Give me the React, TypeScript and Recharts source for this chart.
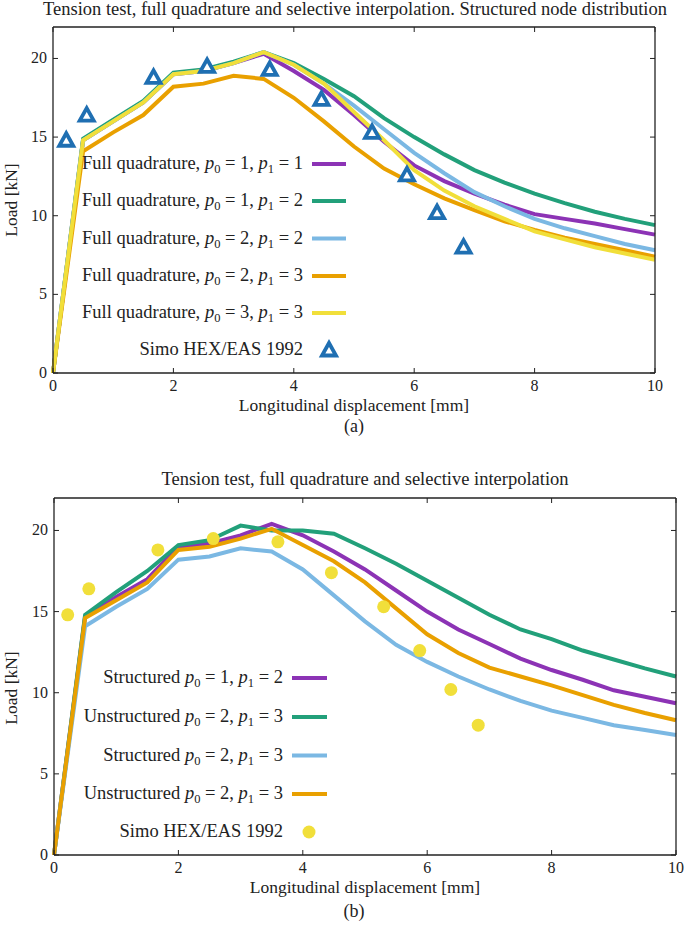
import React from 'react';
import { ComposedChart, Line, Scatter, XAxis, YAxis } from 'recharts';

// ---------- data ----------
const DISP = [0, 0.5, 1, 1.5, 2, 2.5, 3, 3.5, 4, 4.5, 5, 5.5, 6, 6.5, 7, 7.5, 8, 8.5, 9, 9.5, 10];

// (a) structured node distribution
const A_P11 = [0, 14.8, 16.0, 17.2, 19.0, 19.2, 19.7, 20.3, 19.2, 18.0, 16.4, 14.7, 13.2, 12.2, 11.4, 10.7, 10.1, 9.8, 9.5, 9.15, 8.8];
const A_P12 = [0, 14.9, 16.1, 17.3, 19.1, 19.3, 19.8, 20.4, 19.7, 18.7, 17.6, 16.2, 15.0, 13.9, 12.9, 12.1, 11.4, 10.8, 10.25, 9.8, 9.4];
const A_P22 = [0, 14.8, 16.0, 17.2, 19.0, 19.2, 19.7, 20.4, 19.6, 18.4, 17.0, 15.5, 14.0, 12.7, 11.5, 10.6, 9.8, 9.2, 8.7, 8.2, 7.8];
const A_P23 = [0, 14.1, 15.3, 16.4, 18.2, 18.4, 18.9, 18.7, 17.5, 16.0, 14.4, 13.0, 12.0, 11.1, 10.35, 9.65, 9.1, 8.6, 8.2, 7.8, 7.4];
const A_P33 = [0, 14.8, 16.0, 17.2, 19.0, 19.2, 19.7, 20.4, 19.6, 18.4, 16.6, 14.8, 12.9, 11.6, 10.6, 9.8, 9.0, 8.5, 8.0, 7.6, 7.2];

// (b) structured vs unstructured
const B_S12 = [0, 14.7, 15.9, 17.0, 19.0, 19.2, 19.7, 20.4, 19.7, 18.7, 17.6, 16.3, 15.0, 13.9, 13.0, 12.1, 11.4, 10.8, 10.15, 9.75, 9.35];
const B_U23 = [0, 14.8, 16.2, 17.5, 19.1, 19.4, 20.3, 20.0, 20.0, 19.8, 18.9, 17.95, 16.9, 15.85, 14.8, 13.9, 13.3, 12.6, 12.05, 11.5, 11.0];
const B_S23 = [0, 14.1, 15.3, 16.4, 18.2, 18.4, 18.9, 18.7, 17.6, 16.0, 14.4, 12.95, 11.9, 11.0, 10.2, 9.5, 8.9, 8.45, 8.0, 7.7, 7.4];
const B_U23B = [0, 14.6, 15.7, 16.8, 18.8, 19.0, 19.5, 20.1, 19.1, 18.1, 16.8, 15.2, 13.6, 12.45, 11.55, 11.0, 10.45, 9.85, 9.25, 8.75, 8.3];

// Simo HEX/EAS 1992 reference points
const SIMO_X = [0.22, 0.56, 1.67, 2.56, 3.6, 4.46, 5.3, 5.88, 6.38, 6.82];
const SIMO_Y = [14.8, 16.4, 18.8, 19.5, 19.3, 17.4, 15.3, 12.6, 10.2, 8.0];

const X_TICKS = [0, 2, 4, 6, 8, 10];
const Y_TICKS = [0, 5, 10, 15, 20];

const A_P0 = [1, 1, 2, 2, 3];
const A_P1 = [1, 2, 2, 3, 3];
const B_PREFIX = ['Structured', 'Unstructured', 'Structured', 'Unstructured'];
const B_P0 = [1, 2, 2, 2];
const B_P1 = [2, 3, 3, 3];

const TITLE_A = 'Tension test, full quadrature and selective interpolation. Structured node distribution';
const TITLE_B = 'Tension test, full quadrature and selective interpolation';
const X_LABEL = 'Longitudinal displacement [mm]';
const Y_LABEL = 'Load [kN]';
const SIMO_LABEL = 'Simo HEX/EAS 1992';

// ---------- styles ----------
const FONT = '"Liberation Serif", "Times New Roman", serif';
const INK = '#222';
const PURPLE = '#8c33b5';
const GREEN = '#22a07a';
const LBLUE = '#7bb8e3';
const ORANGE = '#e9a000';
const YELLOW = '#f1df3a';
const TRI_BLUE = '#1f6fb2';
const A_COLORS = [PURPLE, GREEN, LBLUE, ORANGE, YELLOW];
const B_COLORS = [PURPLE, GREEN, LBLUE, ORANGE];

const tableA = DISP.map((x, i) => ({ x, a0: A_P11[i], a1: A_P12[i], a2: A_P22[i], a3: A_P23[i], a4: A_P33[i] }));
const tableB = DISP.map((x, i) => ({ x, b0: B_S12[i], b1: B_U23[i], b2: B_S23[i], b3: B_U23B[i] }));
const simo = SIMO_X.map((x, i) => ({ x, y: SIMO_Y[i] }));

const BottomTick = (p: any) => (
  <g>
    <line x1={p.x} x2={p.x} y1={p.y} y2={p.y - 5} stroke={INK} strokeWidth={1} />
    <text x={p.x} y={p.y + 18} textAnchor="middle" fontFamily={FONT} fontSize={16} fill={INK}>{p.payload.value}</text>
  </g>
);
const TopTick = (p: any) => <line x1={p.x} x2={p.x} y1={p.y} y2={p.y + 5} stroke={INK} strokeWidth={1} />;
const LeftTick = (p: any) => (
  <g>
    <line x1={p.x} x2={p.x + 5} y1={p.y} y2={p.y} stroke={INK} strokeWidth={1} />
    <text x={p.x - 6} y={p.y + 5} textAnchor="end" fontFamily={FONT} fontSize={16} fill={INK}>{p.payload.value}</text>
  </g>
);
const RightTick = (p: any) => <line x1={p.x} x2={p.x - 5} y1={p.y} y2={p.y} stroke={INK} strokeWidth={1} />;

const Tri = (p: any) => {
  const { cx, cy } = p;
  if (cx == null || cy == null) return null;
  return (
    <polygon
      points={`${cx},${cy - 7} ${cx + 7},${cy + 5.5} ${cx - 7},${cy + 5.5}`}
      fill="#fff"
      stroke={TRI_BLUE}
      strokeWidth={3.8}
      strokeLinejoin="miter"
    />
  );
};
const Dot = (p: any) => {
  const { cx, cy } = p;
  if (cx == null || cy == null) return null;
  return <circle cx={cx} cy={cy} r={6.5} fill={YELLOW} />;
};

const axisLine = { stroke: INK, strokeWidth: 1.3 };

const commonAxes = () => [
  <XAxis key="xb" dataKey="x" type="number" domain={[0, 10]} ticks={X_TICKS} height={1} tickSize={0} tickMargin={0}
    tickLine={false} axisLine={axisLine} tick={(p: any) => <BottomTick {...p} />} interval={0} />,
  <XAxis key="xt" xAxisId="top" orientation="top" dataKey="x" type="number" domain={[0, 10]} ticks={X_TICKS} height={1}
    tickSize={0} tickMargin={0} tickLine={false} axisLine={axisLine} tick={(p: any) => <TopTick {...p} />} interval={0} />,
  <YAxis key="yl" type="number" domain={[0, 22]} ticks={Y_TICKS} width={1} tickSize={0} tickMargin={0} tickLine={false}
    axisLine={axisLine} tick={(p: any) => <LeftTick {...p} />} interval={0} allowDataOverflow />,
  <YAxis key="yr" yAxisId="right" orientation="right" type="number" domain={[0, 22]} ticks={Y_TICKS} width={1}
    tickSize={0} tickMargin={0} tickLine={false} axisLine={axisLine} tick={(p: any) => <RightTick {...p} />} interval={0} allowDataOverflow />,
];

function MathLabel({ x, y, prefix, p0, p1 }: { x: number; y: number; prefix: string; p0: number; p1: number }) {
  return (
    <text x={x} y={y} textAnchor="end" fontFamily={FONT} fontSize={18.5} fill={INK}>
      {prefix}
      <tspan fontStyle="italic">p</tspan>
      <tspan fontSize={12.5} dy={4}>0</tspan>
      <tspan dy={-4}>{' = ' + p0 + ', '}</tspan>
      <tspan fontStyle="italic">p</tspan>
      <tspan fontSize={12.5} dy={4}>1</tspan>
      <tspan dy={-4}>{' = ' + p1}</tspan>
    </text>
  );
}

export default function App() {
  const aRows = [164, 201, 238.5, 276, 313, 350];
  const bRows = [678, 717, 755.5, 794, 832];
  return (
    <div style={{ position: 'absolute', left: 0, top: 0, width: 685, height: 929, background: '#fff', fontFamily: FONT }}>
      <div style={{ position: 'absolute', left: 0, top: 0 }}>
        <ComposedChart width={685} height={400} data={tableA} margin={{ top: 26, right: 29, left: 52, bottom: 26 }}>
          {commonAxes()}
          <Line dataKey="a0" stroke={A_COLORS[0]} strokeWidth={4} dot={false} isAnimationActive={false} />
          <Line dataKey="a1" stroke={A_COLORS[1]} strokeWidth={4} dot={false} isAnimationActive={false} />
          <Line dataKey="a2" stroke={A_COLORS[2]} strokeWidth={4} dot={false} isAnimationActive={false} />
          <Line dataKey="a3" stroke={A_COLORS[3]} strokeWidth={4} dot={false} isAnimationActive={false} />
          <Line dataKey="a4" stroke={A_COLORS[4]} strokeWidth={4} dot={false} isAnimationActive={false} />
          <Scatter data={simo} dataKey="y" shape={Tri} isAnimationActive={false} />
        </ComposedChart>
      </div>
      <div style={{ position: 'absolute', left: 0, top: 470 }}>
        <ComposedChart width={685} height={420} data={tableB} margin={{ top: 27, right: 8, left: 53, bottom: 34 }}>
          {commonAxes()}
          <Line dataKey="b0" stroke={B_COLORS[0]} strokeWidth={4} dot={false} isAnimationActive={false} />
          <Line dataKey="b1" stroke={B_COLORS[1]} strokeWidth={4} dot={false} isAnimationActive={false} />
          <Line dataKey="b2" stroke={B_COLORS[2]} strokeWidth={4} dot={false} isAnimationActive={false} />
          <Line dataKey="b3" stroke={B_COLORS[3]} strokeWidth={4} dot={false} isAnimationActive={false} />
          <Scatter data={simo} dataKey="y" shape={Dot} isAnimationActive={false} />
        </ComposedChart>
      </div>
      <svg width={685} height={929} style={{ position: 'absolute', left: 0, top: 0, pointerEvents: 'none' }}>
        <text x={355} y={15} textAnchor="middle" fontFamily={FONT} fontSize={18.5} fill={INK}>{TITLE_A}</text>
        <text x={365} y={485} textAnchor="middle" fontFamily={FONT} fontSize={18.5} fill={INK}>{TITLE_B}</text>
        <text x={354} y={432} textAnchor="middle" fontFamily={FONT} fontSize={18} fill={INK}>(a)</text>
        <text x={354} y={917} textAnchor="middle" fontFamily={FONT} fontSize={18} fill={INK}>(b)</text>
        <text x={354} y={411} textAnchor="middle" fontFamily={FONT} fontSize={17.5} fill={INK}>{X_LABEL}</text>
        <text x={365} y={893} textAnchor="middle" fontFamily={FONT} fontSize={17.5} fill={INK}>{X_LABEL}</text>
        <text transform="translate(17,200) rotate(-90)" textAnchor="middle" fontFamily={FONT} fontSize={17.5} fill={INK}>{Y_LABEL}</text>
        <text transform="translate(17,688) rotate(-90)" textAnchor="middle" fontFamily={FONT} fontSize={17.5} fill={INK}>{Y_LABEL}</text>

        {A_P0.map((p0, i) => (
          <g key={'la' + i}>
            <MathLabel x={303} y={aRows[i] + 5} prefix="Full quadrature, " p0={p0} p1={A_P1[i]} />
            <line x1={312} x2={346} y1={aRows[i]} y2={aRows[i]} stroke={A_COLORS[i]} strokeWidth={4} />
          </g>
        ))}
        <text x={303} y={aRows[5] + 5} textAnchor="end" fontFamily={FONT} fontSize={18.5} fill={INK}>{SIMO_LABEL}</text>
        <Tri cx={329} cy={aRows[5]} />

        {B_PREFIX.map((pre, i) => (
          <g key={'lb' + i}>
            <MathLabel x={283} y={bRows[i] + 5} prefix={pre + ' '} p0={B_P0[i]} p1={B_P1[i]} />
            <line x1={292} x2={327} y1={bRows[i]} y2={bRows[i]} stroke={B_COLORS[i]} strokeWidth={4} />
          </g>
        ))}
        <text x={283} y={bRows[4] + 5} textAnchor="end" fontFamily={FONT} fontSize={18.5} fill={INK}>{SIMO_LABEL}</text>
        <Dot cx={309} cy={bRows[4]} />
      </svg>
    </div>
  );
}
